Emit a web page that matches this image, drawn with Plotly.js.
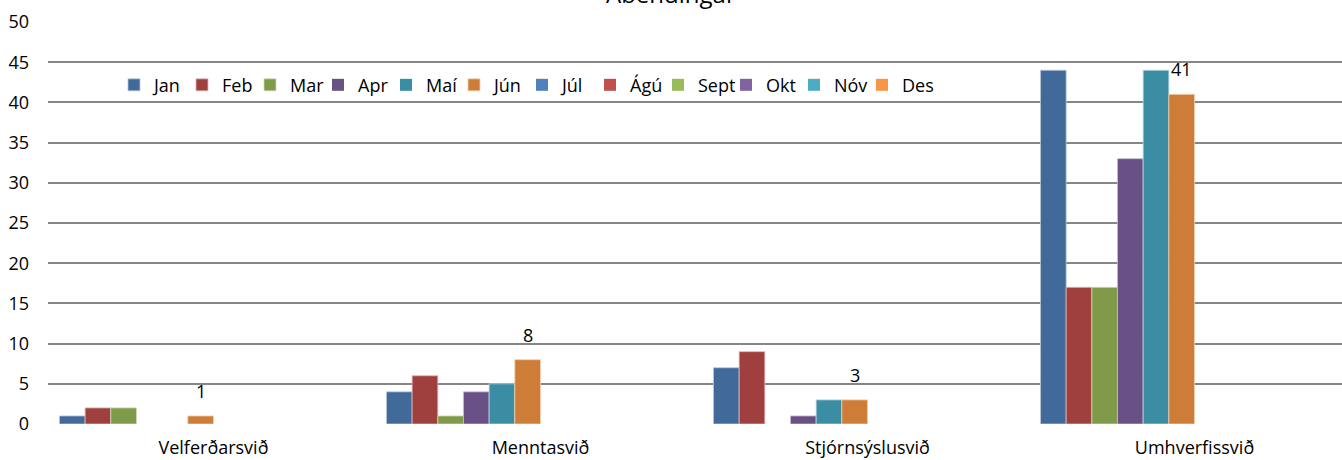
<!DOCTYPE html>
<html>
<head>
<meta charset="utf-8">
<script src="https://cdn.plot.ly/plotly-3.0.1.min.js"></script>
<style>html,body{margin:0;padding:0;background:#fff;}#chart{width:1342px;height:460px;}</style>
</head>
<body>
<div id="chart"></div>
<script>
const chartTitle = 'Ábendingar';
const categories = ['Velferðarsvið', 'Menntasvið', 'Stjórnsýslusvið', 'Umhverfissvið'];
const months = ['Jan','Feb','Mar','Apr','Maí','Jún','Júl','Ágú','Sept','Okt','Nóv','Des'];
const jan = [1, 4, 7, 44];
const feb = [2, 6, 9, 17];
const mar = [2, 1, 0, 17];
const apr = [0, 4, 1, 33];
const mai = [0, 5, 3, 44];
const jun = [1, 8, 3, 41];
const jul = [null, null, null, null];
const agu = [null, null, null, null];
const sept = [null, null, null, null];
const okt = [null, null, null, null];
const nov = [null, null, null, null];
const des = [null, null, null, null];
const seriesValues = [jan, feb, mar, apr, mai, jun, jul, agu, sept, okt, nov, des];
const labelledSeries = 'Jún';

const FONT = '"Open Sans", Lato, sans-serif';
const BARGAP = 0.058;
const colors = ['#416A9B','#A0403E','#7F9A48','#695085','#3A8DA3','#CE7D38',
                '#4F81BD','#C0504D','#9BBB59','#8064A2','#4BACC6','#F79646'];
const outline = ['#B9C9DD','#DDB7B6','#CFDBB8','#C7BBD6','#B5D8E2','#F4CFAE',
                 '#B9CDE5','#E6B9B8','#D7E4BD','#CCC1DA','#B7DEE8','#FCD5B5'];

const traces = months.map((m, i) => ({
  type: 'bar',
  name: m,
  x: categories,
  y: seriesValues[i],
  marker: {color: colors[i],
           line: {color: outline[i], width: seriesValues[i].map(v => (v ? 0.8 : 0))}},
  cliponaxis: false,
  hoverinfo: 'name+y'
}));

// data labels for the labelled series, placed at its bars through the axis scales
const li = months.indexOf(labelledSeries);
const barW = (1 - BARGAP) / months.length;
const offset = (li - (months.length - 1) / 2) * barW;
const annotations = seriesValues[li].map((v, c) => ({
  x: c + offset, y: v, xref: 'x', yref: 'y',
  text: String(v), showarrow: false, yanchor: 'bottom', yshift: 11,
  font: {family: FONT, size: 18, color: '#000'}
}));
// chart title (partly above the top edge, as in the original)
annotations.push({
  text: chartTitle, xref: 'paper', yref: 'paper', x: 0.4815, y: 1,
  xanchor: 'center', yanchor: 'bottom', yshift: 10, showarrow: false,
  font: {family: FONT, size: 24, color: '#000'}
});

const layout = {
  width: 1342, height: 460,
  margin: {l: 48, r: 0, t: 22, b: 36},
  paper_bgcolor: '#fff', plot_bgcolor: '#fff',
  font: {family: FONT, size: 18, color: '#000'},
  barmode: 'group',
  bargap: BARGAP,
  bargroupgap: 0,
  annotations: annotations,
  xaxis: {type: 'category', range: [-0.506, 3.451], showgrid: false, zeroline: false,
          showline: false, ticks: '', ticklabelstandoff: 11, tickfont: {size: 18}, fixedrange: true},
  yaxis: {range: [0, 50], dtick: 5, showgrid: true, gridcolor: '#868686', gridwidth: 2,
          zeroline: false, showline: false, ticks: '', ticklabelstandoff: 18,
          tickfont: {size: 18}, fixedrange: true},
  showlegend: true,
  legend: {orientation: 'h', x: 0.051, xanchor: 'left', y: 0.843, yanchor: 'middle',
           font: {size: 18}, bgcolor: 'rgba(0,0,0,0)', itemwidth: 30, entrywidth: 23,
           traceorder: 'normal'}
};

Plotly.newPlot('chart', traces, layout, {displayModeBar: false, staticPlot: true}).then(gd => {
  // let the last legend label run past the fixed entry width instead of being clipped
  gd.querySelectorAll('.legend .scrollbox').forEach(el => el.removeAttribute('clip-path'));
});
</script>
</body>
</html>
